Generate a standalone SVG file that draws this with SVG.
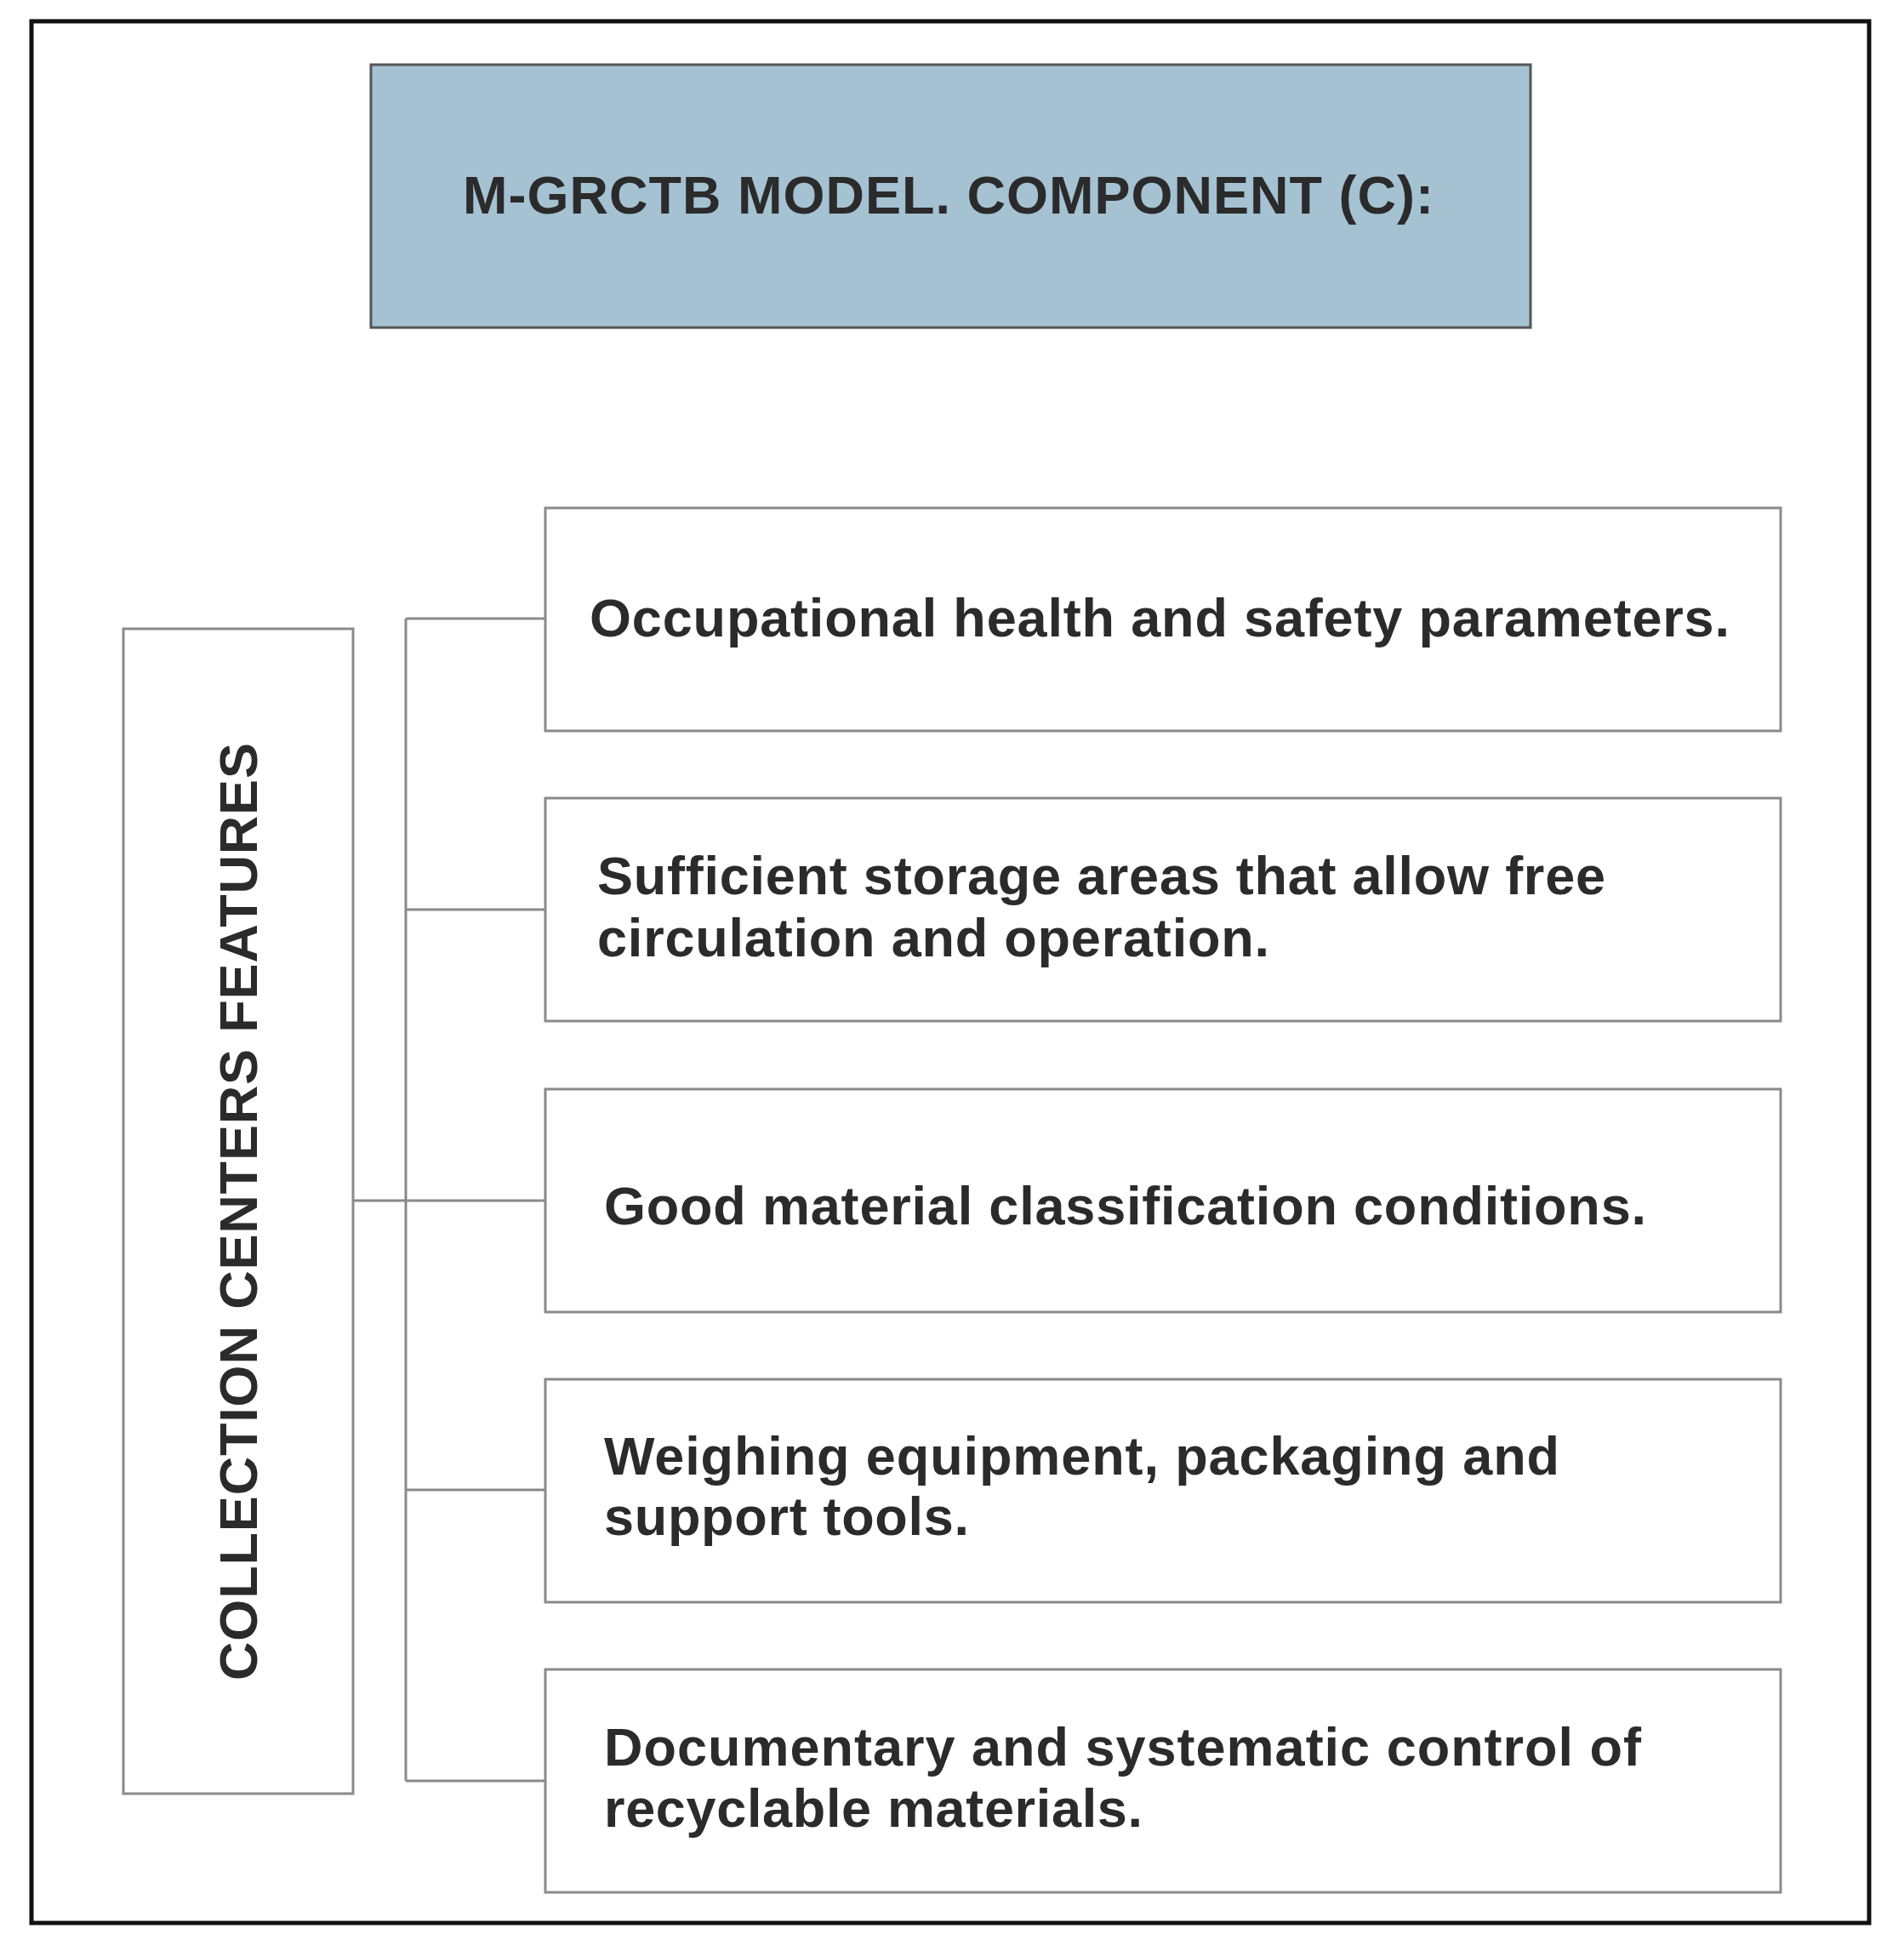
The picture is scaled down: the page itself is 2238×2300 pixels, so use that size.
<svg xmlns="http://www.w3.org/2000/svg" width="2238" height="2300" viewBox="0 0 2238 2300">
<style>
.t{font-family:"Liberation Sans",Arial,sans-serif;font-weight:bold;fill:#2b2b2b;font-size:63px}
.b{fill:#fff;stroke:#8a8a8a;stroke-width:3}
.c{fill:none;stroke:#8a8a8a;stroke-width:3}
</style>
<rect x="0" y="0" width="2238" height="2300" fill="#fff"/>
<rect x="37" y="25" width="2160" height="2235" fill="none" stroke="#111" stroke-width="5"/>
<g id="title"><rect x="436" y="76" width="1363" height="309" fill="#a5c2d3" stroke="#555" stroke-width="3"/>
<text class="t" x="544" y="251" textLength="1141" font-size="66">M-GRCTB MODEL. COMPONENT (C):</text></g>
<g id="connectors">
<path class="c" d="M477 727V2093M477 727H641M477 1069H641M415 1411H641M477 1751H641M477 2093H641"/>
</g>
<g id="left"><rect class="b" x="145" y="739" width="270" height="1369"/>
<text class="t" transform="translate(302,1424) rotate(-90)" x="-551" y="0" textLength="1102" font-size="64">COLLECTION CENTERS FEATURES</text></g>
<g id="n1"><rect class="b" x="641" y="597" width="1452" height="262"/>
<text class="t" x="693" y="748" textLength="1340">Occupational health and safety parameters.</text></g>
<g id="n2"><rect class="b" x="641" y="938" width="1452" height="262"/>
<text class="t" x="702" y="1051" textLength="1185">Sufficient storage areas that allow free</text>
<text class="t" x="702" y="1124" textLength="790">circulation and operation.</text></g>
<g id="n3"><rect class="b" x="641" y="1280" width="1452" height="262"/>
<text class="t" x="710" y="1439" textLength="1225">Good material classification conditions.</text></g>
<g id="n4"><rect class="b" x="641" y="1621" width="1452" height="262"/>
<text class="t" x="710" y="1733" textLength="1123">Weighing equipment, packaging and</text>
<text class="t" x="710" y="1804" textLength="429">support tools.</text></g>
<g id="n5"><rect class="b" x="641" y="1962" width="1452" height="262"/>
<text class="t" x="710" y="2075" textLength="1219">Documentary and systematic control of</text>
<text class="t" x="710" y="2147" textLength="633">recyclable materials.</text></g>
</svg>
